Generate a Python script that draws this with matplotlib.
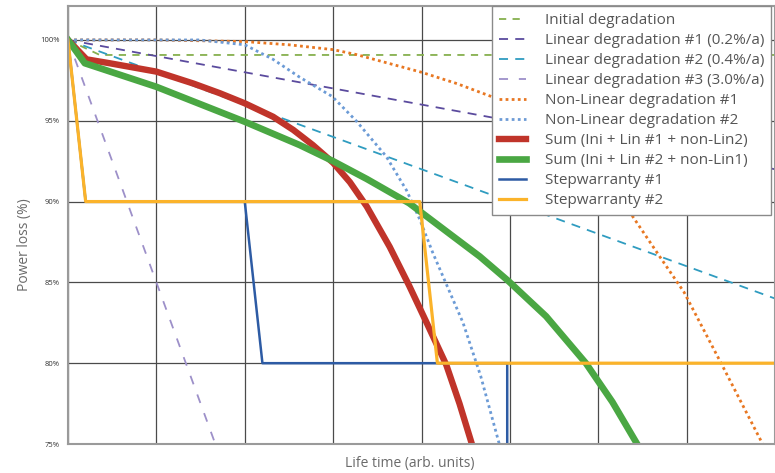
import matplotlib
matplotlib.use("Agg")
import matplotlib.pyplot as plt

plt.rcParams['font.family'] = ['Open Sans', 'DejaVu Sans']

# ---- data ----
x_init = [0, 0.36, 8.0]
y_init = [100, 99.07, 99.07]

x_lin1 = [0, 8.0]
y_lin1 = [100, 92.0]

x_lin2 = [0, 8.0]
y_lin2 = [100, 84.0]

x_lin3 = [0, 1.667]
y_lin3 = [100, 75.0]

x_nl1 = [0, 1.0, 2.0, 2.5, 3.0, 3.26, 4.0, 4.4, 4.79, 5.3, 5.8, 6.35, 6.72, 6.97, 7.39, 7.86]
y_nl1 = [100, 100, 99.9, 99.7, 99.4, 99.1, 98.0, 97.3, 96.5, 95.0, 92.8, 89.4, 86.4, 84.4, 80.0, 75.0]

x_nl2 = [0, 1.0, 1.49, 2.0, 2.32, 2.62, 2.99, 3.26, 3.6, 3.83, 3.98, 4.13, 4.28, 4.47, 4.67, 4.88]
y_nl2 = [100, 100, 100, 99.7, 98.8, 97.7, 96.5, 95.0, 92.8, 90.7, 88.9, 86.8, 84.9, 82.5, 79.2, 75.0]

x_sum1 = [0, 0.21, 0.47, 1.0, 1.42, 1.72, 2.0, 2.32, 2.55, 2.77, 3.0, 3.19, 3.38, 3.64, 3.86, 4.05, 4.28, 4.43, 4.57]
y_sum1 = [100, 98.8, 98.56, 98.04, 97.3, 96.7, 96.08, 95.25, 94.43, 93.5, 92.4, 91.2, 89.7, 87.2, 84.8, 82.6, 79.9, 77.5, 75.0]

x_sum2 = [0, 0.19, 1.0, 2.0, 2.62, 3.0, 3.38, 3.86, 4.32, 4.66, 4.98, 5.41, 5.86, 6.16, 6.44]
y_sum2 = [100, 98.56, 97.1, 94.94, 93.5, 92.5, 91.4, 89.9, 88.0, 86.6, 85.1, 82.9, 80.0, 77.6, 75.0]

x_step1 = [0, 0.2, 2.0, 2.2, 4.97, 4.97]
y_step1 = [100, 90, 90, 80, 80, 75]

x_step2 = [0, 0.2, 3.98, 4.18, 8.0]
y_step2 = [100, 90, 90, 80, 80]

y_ticks = [75, 80, 85, 90, 95, 100]
y_ticklabels = ['75%', '80%', '85%', '90%', '95%', '100%']
x_grid = [0, 1, 2, 3, 4, 5, 6, 7, 8]

labels = ['Initial degradation', 'Linear degradation #1 (0.2%/a)',
          'Linear degradation #2 (0.4%/a)', 'Linear degradation #3 (3.0%/a)',
          'Non-Linear degradation #1', 'Non-Linear degradation #2',
          'Sum (Ini + Lin #1 + non-Lin2)', 'Sum (Ini + Lin #2 + non-Lin1)',
          'Stepwarranty #1', 'Stepwarranty #2']

fig = plt.figure(figsize=(7.75, 4.73), dpi=100)
ax = fig.add_axes([68/775, 29/473, 1 - 68/775, (444-6)/473])

ax.plot(x_init, y_init, color='#86b04e', lw=1.3, ls=(0, (4, 3.5)), label=labels[0])
ax.plot(x_lin1, y_lin1, color='#5b4b9e', lw=1.3, ls=(0, (5, 4)), label=labels[1])
ax.plot(x_lin2, y_lin2, color='#2f9cc0', lw=1.3, ls=(0, (5, 4)), label=labels[2])
ax.plot(x_lin3, y_lin3, color='#9d90c9', lw=1.3, ls=(0, (5, 6)), label=labels[3])
ax.plot(x_nl1, y_nl1, color='#e87722', lw=2.0, ls=(0, (1, 1.2)), label=labels[4])
ax.plot(x_nl2, y_nl2, color='#6c9bd6', lw=2.0, ls=(0, (1, 1.2)), label=labels[5])
ax.plot(x_sum1, y_sum1, color='#c0342a', lw=4.6, solid_joinstyle='round', label=labels[6])
ax.plot(x_sum2, y_sum2, color='#4aa743', lw=4.8, solid_joinstyle='round', label=labels[7])
ax.plot(x_step1, y_step1, color='#2d5ba4', lw=1.8, label=labels[8])
ax.plot(x_step2, y_step2, color='#fbb32a', lw=2.3, label=labels[9])

ax.set_xlim(0, 8)
ax.set_ylim(75, 102.1)
ax.set_xticks(x_grid)
ax.set_xticklabels([])
ax.set_yticks(y_ticks)
ax.set_yticklabels(y_ticklabels, fontsize=5.5, color='#333333')
ax.tick_params(length=0, pad=6)
ax.grid(True, color='#4a4a4a', lw=0.9)
ax.set_axisbelow(True)
for s in ax.spines.values():
    s.set_color('#9a9a9a')
    s.set_linewidth(1.5)

fig.text(25/775, 1 - 245/473, 'Power loss (%)', rotation=90, ha='center', va='center',
         fontsize=10, color='#6a6a6a')
fig.text(410/775, 1 - 463/473, 'Life time (arb. units)', ha='center', va='center',
         fontsize=10, color='#6a6a6a')

leg = ax.legend(loc='upper right', fontsize=11, handlelength=1.8,
                handletextpad=1.2, labelspacing=0.33, borderpad=0.45,
                fancybox=False, framealpha=1.0, edgecolor='#8a8a8a', borderaxespad=0)
leg.set_bbox_to_anchor((771/775, 1 - 6/473), transform=fig.transFigure)
leg.get_frame().set_linewidth(1.0)
for t in leg.get_texts():
    t.set_color('#555555')

fig.savefig('out.png', dpi=100)
